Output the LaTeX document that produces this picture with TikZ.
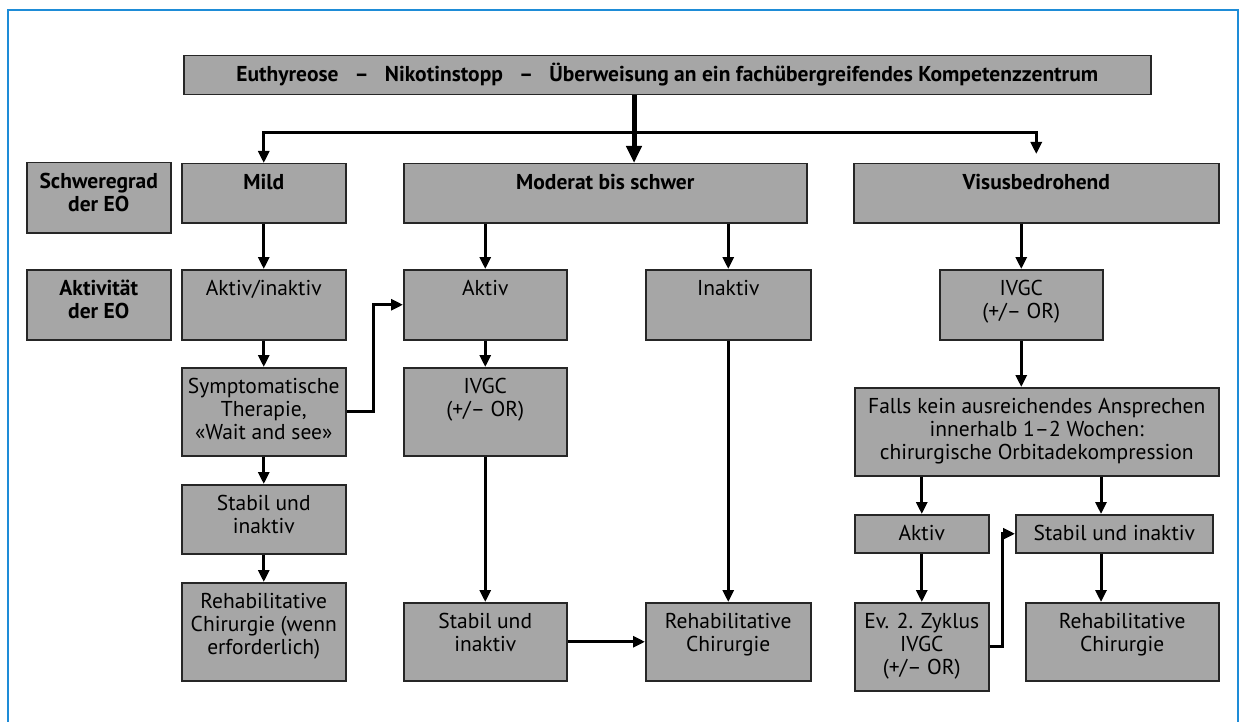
\documentclass[tikz,border=0pt]{standalone}
\usepackage{fontspec}
\setmainfont{PT Sans}
\usepackage{tikz}
\usetikzlibrary{arrows.meta, positioning, calc}
\definecolor{boxgray}{RGB}{166,166,166}
\definecolor{frameblue}{RGB}{30,140,215}
% text sits at the top of each cell
\newcommand{\cell}[3]{\parbox[c][#2][t]{#1}{\centering\rule{0pt}{26pt}#3}}

\begin{document}
\begin{tikzpicture}[
    x=1pt, y=-1pt,
    font=\fontsize{21.5}{23}\selectfont,
    box/.style={draw=black!85, line width=1.5pt, fill=boxgray,
                anchor=north west, inner sep=0pt},
    ar/.style={-{Triangle[length=12pt,width=11pt]}, line width=3pt},
    arb/.style={-{Triangle[length=17pt,width=15pt]}, line width=5pt},
]
\useasboundingbox (0,0) rectangle (1241,722);
\draw[frameblue, line width=2pt] (8,722) -- (8,10) -- (1238,10) -- (1238,722);

\node[box] (top) at (183,55) {\cell{967pt}{39pt}{\bfseries Euthyreose\hspace{0.75em}–\hspace{0.75em}Nikotinstopp\hspace{0.75em}–\hspace{0.75em}Überweisung an ein fachübergreifendes Kompetenzzentrum}};

% Schweregrad
\node[box] (sgrad) at (26,162) {\cell{144pt}{70pt}{\bfseries Schweregrad\\der EO}};
\node[box] (mild) at (181,163) {\cell{164pt}{59pt}{\bfseries Mild}};
\node[box] (mod) at (403,163) {\cell{403pt}{59pt}{\bfseries Moderat bis schwer}};
\node[box] (vis) at (853,163) {\cell{365pt}{59pt}{\bfseries Visusbedrohend}};

% Aktivitaet
\node[box] (aktg) at (26,269) {\cell{144pt}{70pt}{\bfseries Aktivität\\der EO}};
\node[box] (akt1) at (181,269) {\cell{164pt}{70pt}{Aktiv/inaktiv}};
\node[box] (akt2) at (403,269) {\cell{163pt}{70pt}{Aktiv}};
\node[box] (inakt) at (645,269) {\cell{165pt}{70pt}{Inaktiv}};
\node[box] (ivgc3) at (939,269) {\cell{163pt}{70pt}{IVGC\\(+/– OR)}};

% Therapie
\node[box] (sym) at (181,367) {\cell{164pt}{88pt}{Symptomatische\\Therapie,\\«Wait and see»}};
\node[box] (ivgc2) at (403,367) {\cell{163pt}{88pt}{IVGC\\(+/– OR)}};
\node[box] (falls) at (854,387) {\cell{364pt}{88pt}{Falls kein ausreichendes Ansprechen\\innerhalb 1–2 Wochen:\\chirurgische Orbitadekompression}};
\node[box] (stab1) at (181,484) {\cell{164pt}{69pt}{Stabil und\\inaktiv}};
\node[box] (akt3) at (854,514) {\cell{134pt}{38pt}{Aktiv}};
\node[box] (stab3) at (1015,514) {\cell{197pt}{38pt}{Stabil und inaktiv}};

% Chirurgie
\node[box] (reh1) at (181,582) {\cell{164pt}{98pt}{Rehabilitative\\Chirurgie (wenn\\erforderlich)}};
\node[box] (stab2) at (403,602) {\cell{163pt}{78pt}{Stabil und\\inaktiv}};
\node[box] (reh2) at (645,602) {\cell{165pt}{78pt}{Rehabilitative\\Chirurgie}};
\node[box] (ev) at (854,602) {\cell{134pt}{88pt}{Ev. 2. Zyklus\\IVGC\\(+/– OR)}};
\node[box] (reh3) at (1025,602) {\cell{193pt}{78pt}{Rehabilitative\\Chirurgie}};

\coordinate (split) at (634,133);
\coordinate (c3) at (1101,0);
\draw[arb] (top.south -| split) -- (mod.north -| split);
\draw[ar] (split) -| (mild.north);
\draw[ar, shorten >=9pt] (split) -| (vis.north);
% mild
\draw[ar] (mild) -- (akt1);
\draw[ar] (akt1) -- (sym);
\draw[ar] (sym) -- (stab1);
\draw[ar] (stab1) -- (reh1);
\draw[ar] (sym.east) -- ++(27,0) |- (akt2.west);
% moderat bis schwer
\draw[ar] (akt2.north |- mod.south) -- (akt2.north);
\draw[ar] (inakt.north |- mod.south) -- (inakt.north);
\draw[ar] (akt2) -- (ivgc2);
\draw[ar] (ivgc2) -- (stab2);
\draw[ar] (stab2) -- (reh2);
\draw[ar] (inakt) -- (reh2);
% visusbedrohend
\draw[ar] (ivgc3.north |- vis.south) -- (ivgc3.north);
\draw[ar] (ivgc3.south) -- (ivgc3.south |- falls.north);
\draw[ar] (akt3.north |- falls.south) -- (akt3.north);
\draw[ar] (c3 |- falls.south) -- (c3 |- stab3.north);
\draw[ar] (akt3) -- (ev);
\draw[ar] (ev.east) -- ++(13,0) |- (stab3.west);
\draw[ar] (c3 |- stab3.south) -- (c3 |- reh3.north);
\end{tikzpicture}
\end{document}
